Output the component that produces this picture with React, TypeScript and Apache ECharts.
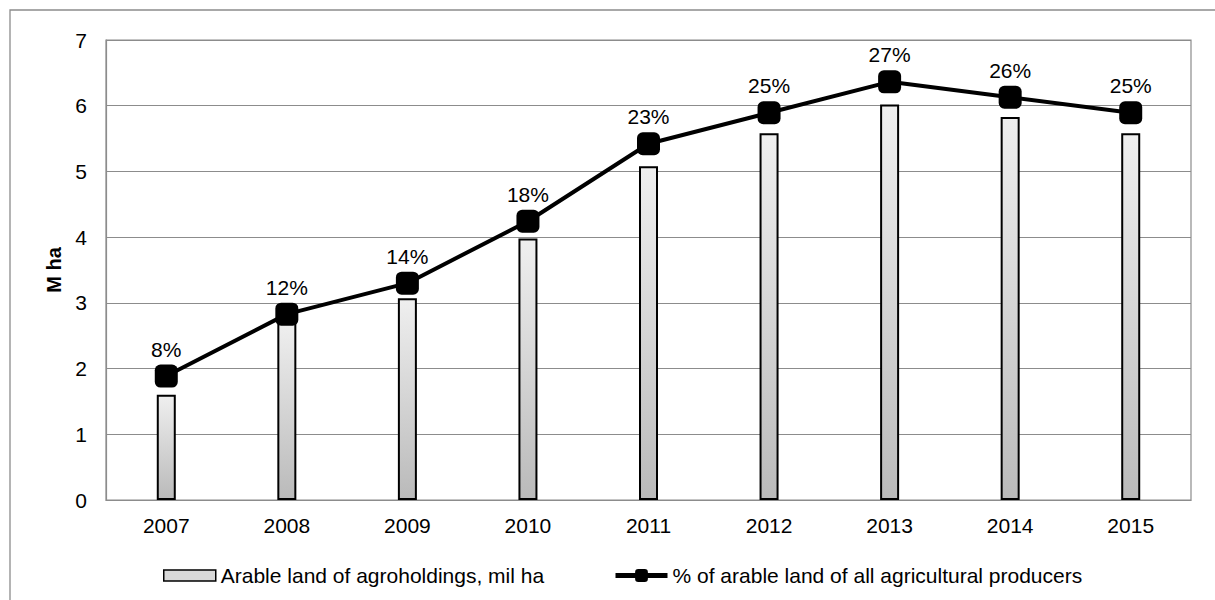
import React, { useEffect, useRef } from "react";
import * as echarts from "echarts";

// Years on the category axis
const years = ["2007", "2008", "2009", "2010", "2011", "2012", "2013", "2014", "2015"];
// Arable land of agroholdings, million hectares
const arableLand = [1.6, 2.7, 3.07, 3.98, 5.08, 5.58, 6.02, 5.83, 5.58];
// Share of arable land of all agricultural producers, %
const sharePct = [8, 12, 14, 18, 23, 25, 27, 26, 25];

const FONT = "'Liberation Sans', Arial, sans-serif";
const FS = 21;

const BAR_NAME = "Arable land of agroholdings, mil ha";
const LINE_NAME = "% of arable land of all agricultural producers";

export default function App() {
  const ref = useRef<HTMLDivElement>(null);

  useEffect(() => {
    if (!ref.current) return;
    const chart = echarts.init(ref.current, undefined, { renderer: "svg" });
    const legendText = { fontFamily: FONT, fontSize: FS, color: "#000" };
    chart.setOption({
      animation: false,
      backgroundColor: "#ffffff",
      textStyle: { fontFamily: FONT, color: "#000" },
      graphic: [
        {
          type: "rect",
          shape: { x: 10, y: 10, width: 1220, height: 620 },
          style: { fill: "none", stroke: "#8c8c8c", lineWidth: 1.3 },
          silent: true,
          z: -1,
        },
      ],
      grid: {
        left: 106,
        right: 24,
        top: 40,
        bottom: 100,
        show: true,
        borderColor: "#8c8c8c",
        borderWidth: 1.2,
      },
      legend: [
        {
          left: 158,
          top: 560,
          textStyle: legendText,
          itemWidth: 52,
          itemHeight: 11,
          data: [
            {
              name: BAR_NAME,
              icon: "rect",
              itemStyle: {
                color: "#d8d8d8",
                borderColor: "#000",
                borderWidth: 1.5,
              },
            },
          ],
        },
        {
          left: 608,
          top: 560,
          textStyle: legendText,
          itemWidth: 52,
          itemHeight: 16,
          data: [{ name: LINE_NAME, lineStyle: { width: 5 } }],
        },
      ],
      xAxis: {
        type: "category",
        data: years,
        axisLine: { show: true, lineStyle: { color: "#8c8c8c", width: 1.2 } },
        axisTick: { show: false },
        axisLabel: { fontFamily: FONT, fontSize: FS, color: "#000", margin: 15 },
      },
      yAxis: [
        {
          type: "value",
          min: 0,
          max: 7,
          interval: 1,
          name: "M ha",
          nameLocation: "middle",
          nameGap: 42,
          nameRotate: 90,
          nameTextStyle: { fontFamily: FONT, fontSize: FS - 1, fontWeight: "bold", color: "#000" },
          axisLine: { show: true, lineStyle: { color: "#8c8c8c", width: 1.2 } },
          axisTick: { show: false },
          axisLabel: { fontFamily: FONT, fontSize: FS, color: "#000", margin: 19 },
          splitLine: { show: true, lineStyle: { color: "#8c8c8c", width: 1.2 } },
        },
        {
          type: "value",
          min: 0,
          max: 29.7,
          show: false,
          splitLine: { show: false },
        },
      ],
      series: [
        {
          name: BAR_NAME,
          type: "bar",
          data: arableLand,
          barWidth: 19,
          itemStyle: {
            color: new echarts.graphic.LinearGradient(0, 0, 0, 1, [
              { offset: 0, color: "#efefef" },
              { offset: 1, color: "#bababa" },
            ]),
            borderColor: "#000",
            borderWidth: 2,
          },
        },
        {
          name: LINE_NAME,
          type: "line",
          yAxisIndex: 1,
          data: sharePct,
          symbol: "roundRect",
          symbolSize: 23,
          lineStyle: { color: "#000", width: 4 },
          itemStyle: { color: "#000" },
          label: {
            show: true,
            position: "top",
            distance: 5,
            formatter: "{c}%",
            fontFamily: FONT,
            fontSize: FS,
            color: "#000",
          },
          z: 5,
        },
      ],
    });
    return () => chart.dispose();
  }, []);

  return (
    <div
      ref={ref}
      style={{ position: "fixed", left: 0, top: 0, width: 1215, height: 600 }}
    />
  );
}
